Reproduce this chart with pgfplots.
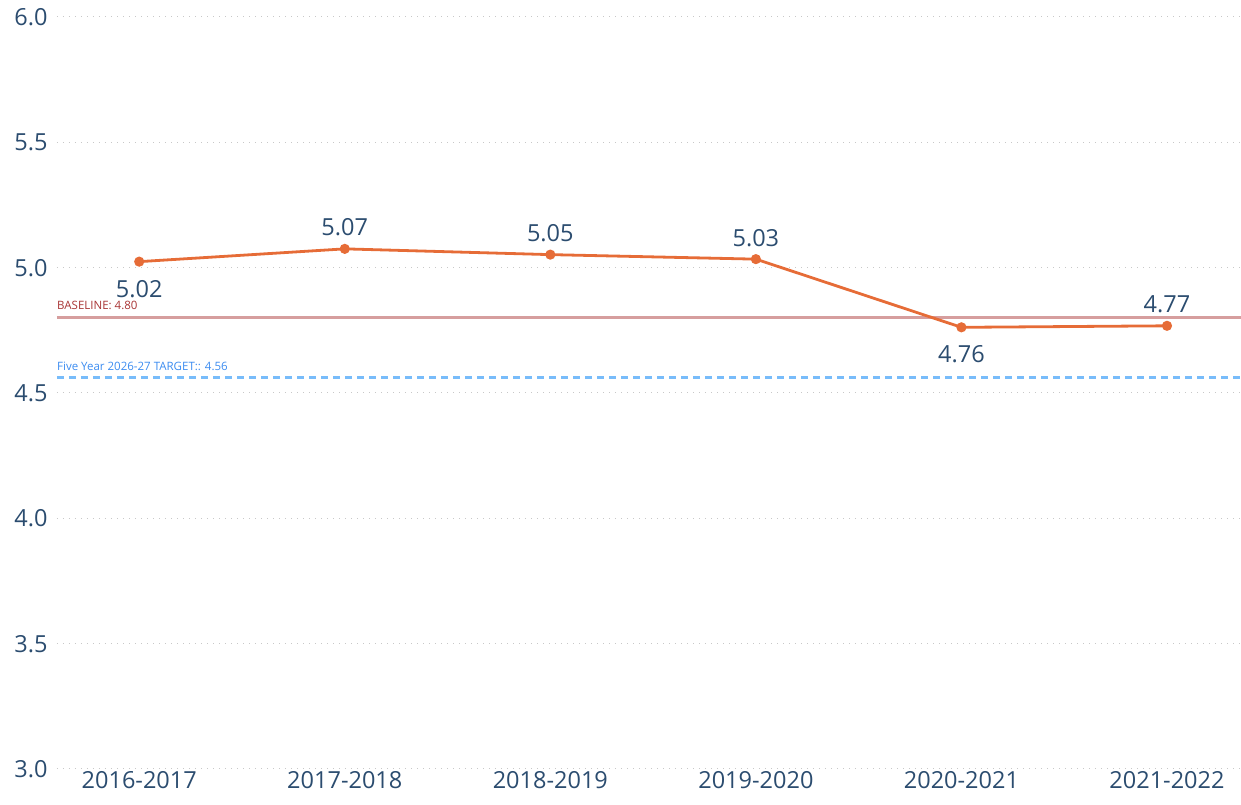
\documentclass[border=0pt]{standalone}
\usepackage{fontspec}
\setmainfont{Open Sans}
\usepackage{pgfplots}
\pgfplotsset{compat=1.18}
\definecolor{txt}{RGB}{43,76,111}
\definecolor{lineor}{RGB}{230,108,55}
\definecolor{basel}{RGB}{214,158,158}
\definecolor{baset}{RGB}{168,52,52}
\definecolor{targl}{RGB}{120,188,250}
\definecolor{targt}{RGB}{60,140,240}
\definecolor{gridc}{RGB}{200,200,200}
\begin{document}
\begin{tikzpicture}
\begin{axis}[
  scale only axis,
  width=1184pt, height=752pt,
  xmin=-0.4, xmax=5.36,
  ymin=3, ymax=6,
  ytick={3,3.5,4,4.5,5,5.5,6},
  yticklabel style={/pgf/number format/fixed,/pgf/number format/fixed zerofill,/pgf/number format/precision=1},
  xtick={0,1,2,3,4,5},
  xticklabels={2016-2017,2017-2018,2018-2019,2019-2020,2020-2021,2021-2022},
  /pgf/number format/assume math mode=true,
  axis line style={draw=none},
  tick style={draw=none},
  ymajorgrids,
  grid style={gridc, line width=1pt, dash pattern=on 1pt off 5pt},
  ticklabel style={font=\fontsize{23.5}{25}\selectfont, text=txt},
  yticklabel style={xshift=-6pt},
  xticklabel style={yshift=1pt},
  clip=false,
]
% baseline and target
\addplot[basel, line width=3pt, forget plot] coordinates {(-0.4,4.80) (5.36,4.80)};
\addplot[targl, line width=3pt, dash pattern=on 7pt off 5pt, forget plot] coordinates {(-0.4,4.56) (5.36,4.56)};
\node[anchor=south west, inner sep=0pt, text=baset, font=\fontsize{11.5}{13}\selectfont] at (axis cs:-0.4,4.83) {BASELINE: 4.80};
\node[anchor=south west, inner sep=0pt, text=targt, font=\fontsize{11.5}{13}\selectfont] at (axis cs:-0.4,4.59) {Five Year 2026-27 TARGET:: 4.56};
% main series
\addplot[lineor, line width=2.8pt, mark=*, mark size=3.6pt, mark options={fill=lineor, draw=lineor}] coordinates {
(0,5.024) (1,5.075) (2,5.052) (3,5.034) (4,4.762) (5,4.768)};
% labels above
\addplot[draw=none, mark=none, nodes near coords, point meta=explicit symbolic,
  every node near coord/.append style={font=\fontsize{23.5}{25}\selectfont, text=txt, anchor=south, yshift=9pt}]
  coordinates {(1,5.075) [5.07] (2,5.052) [5.05] (3,5.034) [5.03] (5,4.768) [4.77]};
% labels below
\addplot[draw=none, mark=none, nodes near coords, point meta=explicit symbolic,
  every node near coord/.append style={font=\fontsize{23.5}{25}\selectfont, text=txt, anchor=north, yshift=-15pt}]
  coordinates {(0,5.024) [5.02] (4,4.762) [4.76]};
\end{axis}
\pgfresetboundingbox
\path (-57pt,-36pt) rectangle (1184pt,769pt);
\end{tikzpicture}
\end{document}
